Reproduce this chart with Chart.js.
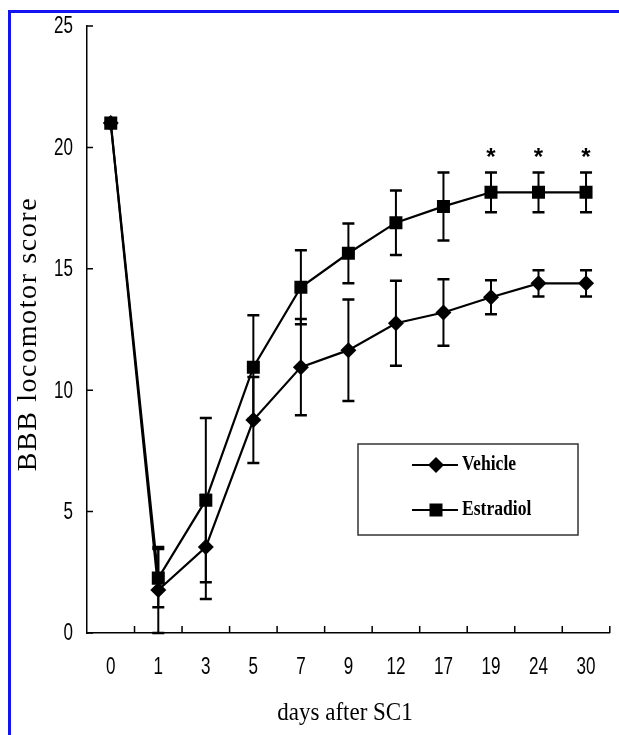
<!DOCTYPE html>
<html>
<head>
<meta charset="utf-8">
<script src="https://cdn.jsdelivr.net/npm/chart.js@4.4.1/dist/chart.umd.min.js"></script>
<style>
  html, body { margin: 0; padding: 0; background: #fff; }
  #wrap { position: relative; width: 619px; height: 735px; overflow: hidden; }
  #frame {
    position: absolute; left: 8px; top: 10px; width: 700px; height: 800px;
    border-left: 3px solid #1414f0; border-top: 3px solid #1414f0;
  }
  #chart { position: absolute; left: 0; top: 0; }
</style>
</head>
<body>
<div id="wrap">
  <div id="frame"></div>
  <canvas id="chart" width="619" height="735"></canvas>
</div>
<script>
// days after spinal cord injury
const days = ['0', '1', '3', '5', '7', '9', '12', '17', '19', '24', '30'];

// BBB scores, mean and error
const vehicleMean   = [21.0, 1.77, 3.54, 8.77, 10.95, 11.65, 12.76, 13.2, 13.83, 14.4, 14.4];
const vehicleErr    = [0, 1.77, 2.14, 1.77, 1.98, 2.09, 1.75, 1.37, 0.7, 0.54, 0.54];
const estradiolMean = [21.0, 2.26, 5.47, 10.95, 14.24, 15.64, 16.9, 17.57, 18.15, 18.15, 18.15];
const estradiolErr  = [0, 1.2, 3.38, 2.14, 1.52, 1.23, 1.33, 1.4, 0.82, 0.82, 0.82];

// days marked with an asterisk
const significant = [false, false, false, false, false, false, false, false, true, true, true];

const yMin = 0, yMax = 25, yStep = 5;

const sans = '"Liberation Sans", Arial, sans-serif';
const serif = '"Liberation Serif", "Times New Roman", serif';

// draws condensed text (the original uses a narrow face that is not installed)
function narrowText(ctx, text, x, y, align, squeeze) {
  ctx.save();
  ctx.translate(x, y);
  ctx.scale(squeeze, 1);
  ctx.textAlign = align;
  ctx.fillText(text, 0, 0);
  ctx.restore();
}

const errorBars = {
  id: 'errorBars',
  beforeDatasetsDraw(chart) {
    const ctx = chart.ctx, y = chart.scales.y;
    ctx.save();
    ctx.strokeStyle = '#000';
    chart.data.datasets.forEach((ds, i) => {
      const meta = chart.getDatasetMeta(i);
      meta.data.forEach((pt, j) => {
        const e = ds.errors[j];
        if (!e) return;
        const top = y.getPixelForValue(ds.data[j] + e);
        const bot = y.getPixelForValue(ds.data[j] - e);
        ctx.lineWidth = 2;
        ctx.beginPath();
        ctx.moveTo(pt.x, top); ctx.lineTo(pt.x, bot);
        ctx.stroke();
        ctx.lineWidth = 2.5;
        ctx.beginPath();
        ctx.moveTo(pt.x - 6, top); ctx.lineTo(pt.x + 6, top);
        ctx.moveTo(pt.x - 6, bot); ctx.lineTo(pt.x + 6, bot);
        ctx.stroke();
      });
    });
    ctx.restore();
  },
  afterDatasetsDraw(chart) {
    const ctx = chart.ctx, y = chart.scales.y;
    const ds = chart.data.datasets[1];
    const meta = chart.getDatasetMeta(1);
    ctx.save();
    ctx.fillStyle = '#000';
    ctx.font = 'bold 24px ' + sans;
    ctx.textAlign = 'center';
    ctx.textBaseline = 'middle';
    meta.data.forEach((pt, j) => {
      if (!significant[j]) return;
      const top = y.getPixelForValue(ds.data[j] + ds.errors[j]);
      ctx.fillText('*', pt.x, top - 14);
    });
    ctx.restore();
  }
};

const decorations = {
  id: 'decorations',
  afterDraw(chart) {
    const ctx = chart.ctx, area = chart.chartArea;
    const x = chart.scales.x, y = chart.scales.y;
    ctx.save();
    ctx.strokeStyle = '#000';
    ctx.lineWidth = 1.5;
    // inward tick marks
    ctx.beginPath();
    y.ticks.forEach(t => {
      const py = y.getPixelForValue(t.value);
      ctx.moveTo(area.left, py); ctx.lineTo(area.left + 6, py);
    });
    const step = x.getPixelForValue(1) - x.getPixelForValue(0);
    days.forEach((d, i) => {
      const px = x.getPixelForValue(i) + step / 2;
      ctx.moveTo(px, area.bottom); ctx.lineTo(px, area.bottom - 7);
    });
    ctx.stroke();

    // tick labels
    ctx.fillStyle = '#000';
    ctx.textBaseline = 'middle';
    ctx.font = '23px ' + sans;
    y.ticks.forEach(t => {
      narrowText(ctx, t.label, 73, y.getPixelForValue(t.value) + 1, 'right', 0.74);
    });
    x.getLabels().forEach((lab, i) => {
      narrowText(ctx, lab, x.getPixelForValue(i), 668, 'center', 0.74);
    });

    // axis titles
    ctx.textAlign = 'center';
    ctx.font = '25px ' + serif;
    narrowText(ctx, 'days after SC1', 345, 713, 'center', 0.92);
    ctx.save();
    ctx.translate(29, 334);
    ctx.rotate(-Math.PI / 2);
    ctx.font = '28px ' + serif;
    ctx.letterSpacing = '1.6px';
    ctx.fillText('BBB locomotor score', 0, 0);
    ctx.restore();

    // legend box
    const bx = 358, by = 444, bw = 220, bh = 91;
    ctx.strokeStyle = '#333';
    ctx.lineWidth = 1.5;
    ctx.strokeRect(bx, by, bw, bh);
    const rows = [
      { label: 'Vehicle', ds: chart.data.datasets[0], cy: 465 },
      { label: 'Estradiol', ds: chart.data.datasets[1], cy: 510 }
    ];
    ctx.font = 'bold 20px ' + serif;
    rows.forEach(r => {
      ctx.strokeStyle = '#000';
      ctx.lineWidth = 2.2;
      ctx.beginPath();
      ctx.moveTo(412, r.cy); ctx.lineTo(458, r.cy);
      ctx.stroke();
      ctx.fillStyle = '#000';
      Chart.helpers.drawPoint(ctx, {
        pointStyle: r.ds.pointStyle, radius: r.ds.pointRadius, rotation: 0, borderWidth: 0
      }, 436, r.cy);
      narrowText(ctx, r.label, 462, r.cy, 'left', 0.88);
    });
    ctx.restore();
  }
};

new Chart(document.getElementById('chart'), {
  type: 'line',
  data: {
    labels: days,
    datasets: [{
      label: 'Vehicle',
      data: vehicleMean,
      errors: vehicleErr,
      borderColor: '#000',
      backgroundColor: '#000',
      borderWidth: 2.2,
      pointStyle: 'rectRot',
      pointRadius: 8,
      pointBorderWidth: 0,
      order: 1
    }, {
      label: 'Estradiol',
      data: estradiolMean,
      errors: estradiolErr,
      borderColor: '#000',
      backgroundColor: '#000',
      borderWidth: 2.2,
      pointStyle: 'rect',
      pointRadius: 9.2,
      pointBorderWidth: 0,
      order: 0
    }]
  },
  options: {
    responsive: false,
    animation: false,
    layout: { padding: { top: 26, right: 2, bottom: 0, left: 0 } },
    plugins: { legend: { display: false }, tooltip: { enabled: false } },
    scales: {
      x: {
        offset: true,
        grid: { display: false, drawTicks: false },
        border: { display: true, color: '#000', width: 1.5 },
        ticks: { display: false },
        afterFit(scale) { scale.height = 102; }
      },
      y: {
        min: yMin, max: yMax,
        grid: { display: false, drawTicks: false },
        border: { display: true, color: '#000', width: 1.5 },
        ticks: { display: false, stepSize: yStep },
        afterFit(scale) { scale.width = 87; }
      }
    }
  },
  plugins: [errorBars, decorations]
});
</script>
</body>
</html>
